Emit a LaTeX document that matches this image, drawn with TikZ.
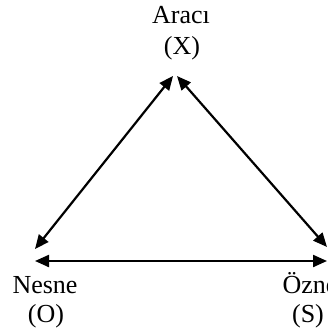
\documentclass[tikz,border=0pt]{standalone}
\usepackage{fontspec}
\setmainfont{Liberation Serif}
\usetikzlibrary{arrows.meta}
\tikzset{
  lbl/.style={anchor=base, inner sep=0pt, font=\fontsize{26}{30}\selectfont},
  link/.style={line width=2.2pt, {Triangle[length=14pt,width=12pt]}-{Triangle[length=14pt,width=12pt]}}
}
\begin{document}
\begin{tikzpicture}[x=1pt,y=-1pt]
\useasboundingbox (0,0) rectangle (328,329);
\node[lbl] (x1) at (181,24) {Aracı};
\node[lbl] (x2) at (182,55) {(X)};
\node[lbl] (o1) at (45,293) {Nesne};
\node[lbl] (o2) at (46,322) {(O)};
\node[lbl] (s1) at (310,293) {Özne};
\node[lbl] (s2) at (308,322) {(S)};
\coordinate (apexL) at (173,76);
\coordinate (apexR) at (177,76);
\coordinate (oD) at (35,249);
\coordinate (sD) at (327,247);
\coordinate (oH) at (35,261);
\coordinate (sH) at (327,261);
\draw[link] (apexL) -- (oD);
\draw[link] (apexR) -- (sD);
\draw[link] (oH) -- (sH);
\end{tikzpicture}
\end{document}
